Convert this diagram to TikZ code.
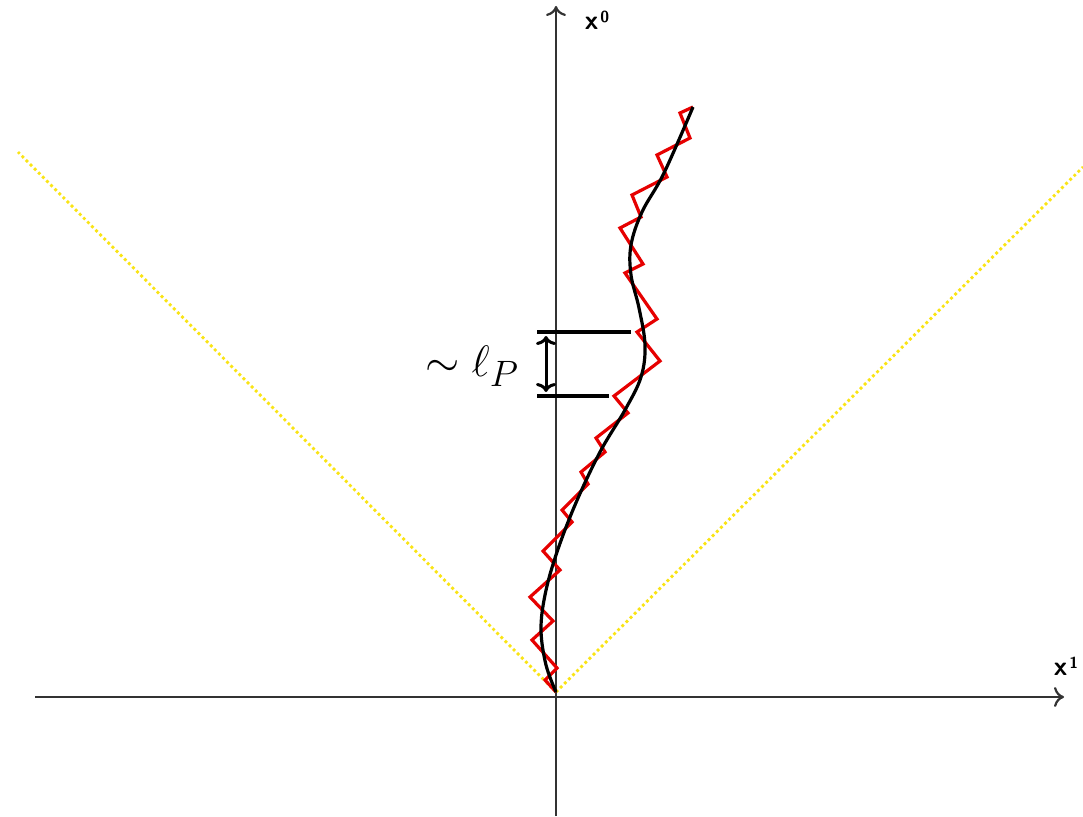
\documentclass[tikz,border=0pt]{standalone}
\usepackage{fontspec}
\usepackage{graphicx}
\usetikzlibrary{arrows.meta}
\definecolor{lightyellow}{RGB}{250,228,20}
\definecolor{zigred}{RGB}{230,0,0}
\tikzset{
  axis/.style={line width=2.2pt, draw=black!80, -{To[length=10pt,width=20pt,line width=2.2pt]}},
  lightcone/.style={line width=2.8pt, draw=lightyellow, dash pattern=on 2.8pt off 3pt},
  zigzag/.style={line width=3.2pt, draw=zigred, line join=miter},
  worldline/.style={line width=3.2pt, draw=black},
  marker/.style={line width=3.4pt, draw=black},
  dblarrow/.style={line width=3pt, draw=black, {To[length=9pt,width=20pt,line width=3pt]}-{To[length=9pt,width=20pt,line width=3pt]}},
  axlabel/.style={font=\fontsize{27}{30}\selectfont\sffamily\bfseries, inner sep=0pt}
}
\newcommand{\supnum}[1]{\hspace{2pt}\raisebox{0.55ex}{\fontsize{16}{18}\selectfont\sffamily\bfseries #1}}
\begin{document}
\begin{tikzpicture}[x=1pt,y=-1pt]
\useasboundingbox (0,0) rectangle (1083,816);
\fill[white] (0,0) rectangle (1083,816);
% coordinates
\coordinate (O) at (556,692);
\coordinate (xl) at (35,697);
\coordinate (xr) at (1064,697);
\coordinate (yb) at (556,816);
\coordinate (yt) at (556,6);
\coordinate (cl) at (18,152);
\coordinate (cr) at (1083,167);
% light cone
\draw[lightcone] (O) -- (cl);
\draw[lightcone] (O) -- (cr);
% axes
\draw[axis] (xl) -- (xr);
\draw[axis] (yb) -- (yt);
\node[axlabel] (x0) at (597,20) {x\supnum{0}};
\node[axlabel] (x1) at (1066,666) {x\supnum{1}};
% Planck length marker
\coordinate (u1) at (537,332);
\coordinate (u2) at (631,332);
\coordinate (l1) at (537,396);
\coordinate (l2) at (609,396);
\draw[marker] (u1) -- (u2);
\draw[marker] (l1) -- (l2);
\coordinate (a1) at (546,336);
\coordinate (a2) at (546,392);
\draw[dblarrow] (a1) -- (a2);
\node[inner sep=0pt] (lp) at (472,366) {\scalebox{1.77}{\Huge$\sim\ell_P$}};
% zigzag
\draw[zigzag] plot coordinates {
(556,692) (545,680) (557,668) (532,640) (553,621) (530,597) (560,570)
(543,551) (572,522) (562,510) (588,484) (581,472) (605,452) (596,438)
(628,413) (614,396) (660,361) (637,332) (657,319) (625,273) (643,264)
(620,228) (641,217) (632,195) (667,177) (657,155) (690,138) (680,113) (693,107)};
% smooth world line
\draw[worldline] plot[smooth, tension=0.6] coordinates {
(556,692) (546,665) (541,630) (545,595) (556,555) (575,505) (600,452)
(625,410) (641,377) (645,345) (639,308) (631,275) (631,245) (642,212)
(664,173) (693,107)};
\end{tikzpicture}
\end{document}
